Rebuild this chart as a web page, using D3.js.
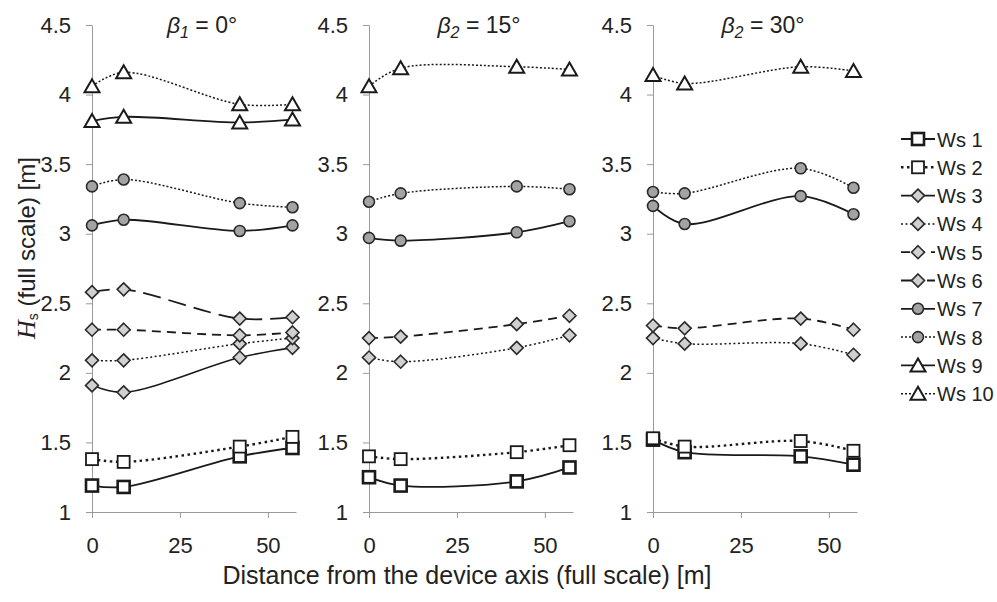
<!DOCTYPE html>
<html>
<head>
<meta charset="utf-8">
<script src="https://cdn.jsdelivr.net/npm/d3@7"></script>
<style>
  body { margin: 0; background: #fff; }
  svg { display: block; font-family: "Liberation Sans", Arial, sans-serif; }
</style>
</head>
<body>
<div id="chart"></div>
<script>
// data
var seriesNames = ["Ws 1", "Ws 2", "Ws 3", "Ws 4", "Ws 5", "Ws 6", "Ws 7", "Ws 8", "Ws 9", "Ws 10"];
var distances = [0, 9, 42, 57];
var xTicks = [0, 25, 50];
var yTicks = [1, 1.5, 2, 2.5, 3, 3.5, 4, 4.5];

// Hs per series (rows = Ws 1..10), null = series not in that panel
var hsBeta0 = [
  [1.19, 1.18, 1.40, 1.46],
  [1.38, 1.36, 1.47, 1.54],
  [1.91, 1.86, 2.11, 2.18],
  [2.09, 2.09, 2.21, 2.25],
  [2.31, 2.31, 2.27, 2.29],
  [2.58, 2.60, 2.39, 2.40],
  [3.06, 3.10, 3.02, 3.06],
  [3.34, 3.39, 3.22, 3.19],
  [3.81, 3.84, 3.80, 3.82],
  [4.06, 4.16, 3.93, 3.93]
];
var hsBeta15 = [
  [1.25, 1.19, 1.22, 1.32],
  [1.40, 1.38, 1.43, 1.48],
  null,
  [2.11, 2.08, 2.18, 2.27],
  [2.25, 2.26, 2.35, 2.41],
  null,
  [2.97, 2.95, 3.01, 3.09],
  [3.23, 3.29, 3.34, 3.32],
  null,
  [4.06, 4.19, 4.20, 4.18]
];
var hsBeta30 = [
  [1.52, 1.43, 1.40, 1.34],
  [1.53, 1.47, 1.51, 1.44],
  null,
  [2.25, 2.21, 2.21, 2.13],
  [2.34, 2.32, 2.39, 2.31],
  null,
  [3.20, 3.07, 3.27, 3.14],
  [3.30, 3.29, 3.47, 3.33],
  null,
  [4.14, 4.08, 4.20, 4.17]
];

var panels = [
  {beta: "1", angle: "0°", values: hsBeta0, left: 92},
  {beta: "2", angle: "15°", values: hsBeta15, left: 369},
  {beta: "2", angle: "30°", values: hsBeta30, left: 653}
];

// look of each series
var styles = [
  {shape: "square",   dash: null,    lw: 1.8, mw: 2.6},
  {shape: "square",   dash: "2.5,3.5", lw: 2.4, mw: 1.8},
  {shape: "diamond",  dash: null,    lw: 1.6, mw: 1.6},
  {shape: "diamond",  dash: "2,2.5", lw: 1.5, mw: 1.6},
  {shape: "diamond",  dash: "9,6",   lw: 1.8, mw: 1.6},
  {shape: "diamond",  dash: "18,8",  lw: 1.8, mw: 1.6},
  {shape: "circle",   dash: null,    lw: 1.8, mw: 1.6},
  {shape: "circle",   dash: "2,2",   lw: 1.5, mw: 1.6},
  {shape: "triangle", dash: null,    lw: 1.8, mw: 2},
  {shape: "triangle", dash: "2,2",   lw: 1.5, mw: 2}
];

var W = 997, H = 602;
var plotTop = 25, plotBottom = 512, plotWidth = 204;
var axisColor = "#9a9a9a", ink = "#1a1a1a";

var svg = d3.select("#chart").append("svg")
    .attr("width", W)
    .attr("height", H);

var y = d3.scaleLinear().domain([1, 4.5]).range([plotBottom, plotTop]);

function drawMarker(g, shape, cx, cy, sw) {
    if (shape == "square") {
        g.append("rect").attr("x", cx - 6).attr("y", cy - 6)
            .attr("width", 12).attr("height", 12)
            .attr("fill", "#fff").attr("stroke", ink).attr("stroke-width", sw);
    } else if (shape == "diamond") {
        g.append("path")
            .attr("d", "M" + cx + "," + (cy - 6.5) + "L" + (cx + 6.5) + "," + cy +
                       "L" + cx + "," + (cy + 6.5) + "L" + (cx - 6.5) + "," + cy + "Z")
            .attr("fill", "#d0d0d0").attr("stroke", "#2a2a2a").attr("stroke-width", sw);
    } else if (shape == "circle") {
        g.append("circle").attr("cx", cx).attr("cy", cy).attr("r", 5.5)
            .attr("fill", "#a3a3a3").attr("stroke", "#2a2a2a").attr("stroke-width", sw);
    } else {
        g.append("path")
            .attr("d", "M" + cx + "," + (cy - 7) + "L" + (cx + 7.5) + "," + (cy + 6) +
                       "L" + (cx - 7.5) + "," + (cy + 6) + "Z")
            .attr("fill", "#fff").attr("stroke", ink).attr("stroke-width", sw)
            .attr("stroke-linejoin", "miter");
    }
}

panels.forEach(function (p) {
    var x = d3.scaleLinear().domain([0, 58]).range([p.left, p.left + plotWidth]);
    var g = svg.append("g");

    var yAxis = g.append("g")
        .attr("transform", "translate(" + p.left + ",0)")
        .call(d3.axisLeft(y).tickValues(yTicks).tickSize(6).tickSizeOuter(0).tickPadding(15)
              .tickFormat(function (d) { return String(d); }));
    var xAxis = g.append("g")
        .attr("transform", "translate(0," + plotBottom + ")")
        .call(d3.axisBottom(x).tickValues(xTicks).tickSize(6).tickSizeOuter(0).tickPadding(19));

    [yAxis, xAxis].forEach(function (a) {
        a.selectAll("path, line").attr("stroke", axisColor);
        a.selectAll("text").attr("fill", "#222").style("font-size", "22px")
            .style("font-family", "'Liberation Sans', Arial, sans-serif");
    });

    var line = d3.line()
        .x(function (d, i) { return x(distances[i]); })
        .y(function (d) { return y(d); })
        .curve(d3.curveCatmullRom.alpha(0.5));

    p.values.forEach(function (vals, s) {
        if (!vals) return;
        var st = styles[s];
        var sg = g.append("g");
        sg.append("path")
            .attr("d", line(vals))
            .attr("fill", "none")
            .attr("stroke", ink)
            .attr("stroke-width", st.lw)
            .attr("stroke-dasharray", st.dash)
            .attr("stroke-linecap", st.dash ? "butt" : "round");
        vals.forEach(function (v, i) {
            drawMarker(sg, st.shape, x(distances[i]), y(v), st.mw);
        });
    });

    // panel title
    var t = g.append("text")
        .attr("x", p.left + 110)
        .attr("y", 33)
        .attr("text-anchor", "middle")
        .style("font-size", "23px")
        .attr("fill", "#222");
    t.append("tspan").text("β").style("font-style", "italic");
    t.append("tspan").text(p.beta).style("font-style", "italic")
        .style("font-size", "16px").attr("dy", 5);
    t.append("tspan").text(" = " + p.angle).attr("dy", -5);
});

// y axis title
var yt = svg.append("text")
    .attr("transform", "translate(35,248) rotate(-90)")
    .attr("text-anchor", "middle")
    .style("font-size", "24px")
    .attr("fill", "#222");
yt.append("tspan").text("H").style("font-style", "italic")
    .style("font-family", "'Liberation Serif', 'Times New Roman', serif").style("font-size", "26px");
yt.append("tspan").text("s").style("font-size", "14px").attr("dy", 3);
yt.append("tspan").text(" (full scale) [m]").attr("dy", -3);

// x axis title
svg.append("text")
    .attr("x", 467)
    .attr("y", 584)
    .attr("text-anchor", "middle")
    .style("font-size", "25px")
    .attr("fill", "#222")
    .text("Distance from the device axis (full scale) [m]");

// legend
var legend = svg.selectAll(".legend")
    .data(seriesNames)
    .enter()
    .append("g")
    .attr("class", "legend")
    .attr("transform", function (d, i) { return "translate(0," + (139 + i * 28.3) + ")"; });

legend.each(function (d, i) {
    var lg = d3.select(this);
    var st = styles[i];
    lg.append("line")
        .attr("x1", 901).attr("x2", 935).attr("y1", 0).attr("y2", 0)
        .attr("stroke", ink)
        .attr("stroke-width", st.lw)
        .attr("stroke-dasharray", st.dash);
    drawMarker(lg, st.shape, 918, 0, st.mw);
    lg.append("text")
        .attr("x", 937).attr("y", 7.5)
        .style("font-size", "20px")
        .attr("fill", "#222")
        .text(d);
});
</script>
</body>
</html>
